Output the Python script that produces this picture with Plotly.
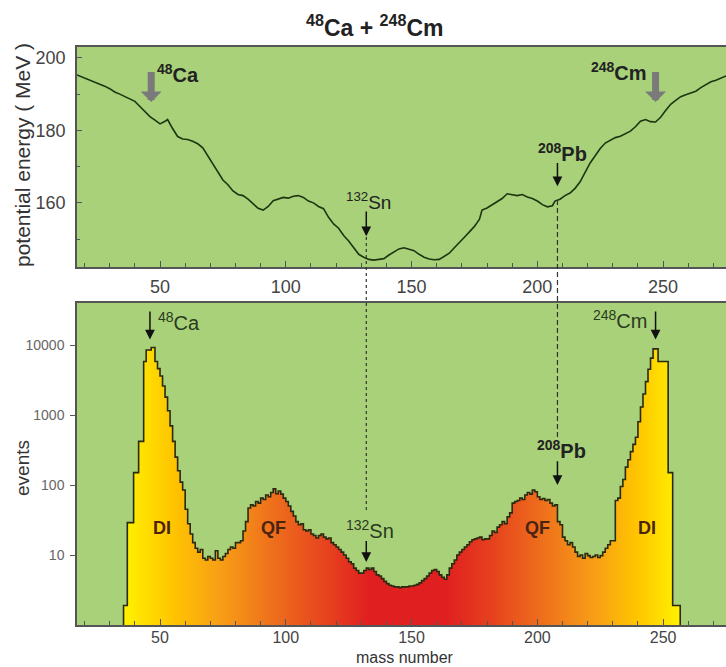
import plotly.graph_objects as go

# ---------------- data ----------------
# potential energy curve (top panel)
pe_mass = [17, 20, 23, 26, 28, 30, 32, 34, 36, 38, 40, 42, 44, 46, 48, 50, 52, 53, 55, 57,
           59, 61, 63, 65, 67, 69, 71, 73, 75, 77, 79, 81, 83, 85, 87, 89, 91, 93, 95, 97,
           99, 101, 103, 105, 107, 109, 111, 113, 115, 117, 119, 121, 123, 125, 127, 129, 131, 133, 135, 137,
           139, 141, 143, 145, 147, 149, 151, 153, 155, 157, 159, 161, 163, 165, 167, 169, 171, 173, 175, 177,
           178, 180, 182, 184, 186, 188, 190, 192, 194, 196, 198, 200, 202, 204, 206, 207, 209, 211, 213, 215,
           217, 219, 221, 223, 225, 227, 229, 231, 233, 235, 237, 239, 241, 243, 245, 247, 249, 251, 253, 255,
           257, 259, 261, 263, 265, 267, 269, 271, 273, 275]
pe_energy = [195.3, 194.5, 193.6, 192.8, 192.2, 191.5, 190.6, 190.0, 189.3, 188.7, 188.0, 186.6, 185.2, 183.8, 182.8, 181.8, 182.5, 183.0, 180.5, 178.3,
             177.6, 177.5, 177.0, 176.3, 175.2, 173.0, 170.8, 168.5, 166.3, 165.0, 163.3, 162.3, 162.0, 161.0, 159.8, 158.5, 158.0, 159.0, 160.6, 161.0,
             161.5, 161.3, 161.8, 162.0, 161.5, 160.5, 160.0, 159.0, 158.4, 156.0, 154.2, 153.0, 151.0, 149.5, 147.5, 145.8, 145.0, 144.4, 144.2, 144.3,
             144.6, 145.6, 146.5, 147.3, 147.6, 147.3, 146.8, 145.8, 145.0, 144.5, 144.3, 144.4, 145.2, 146.1, 147.6, 149.2, 150.5, 152.0, 153.5, 155.5,
             158.0, 158.6, 159.5, 160.3, 161.2, 162.5, 162.3, 162.0, 162.3, 161.6, 161.2, 160.5, 159.5, 158.9, 159.2, 160.5, 161.0, 162.0, 162.7, 164.0,
             165.8, 168.5, 171.0, 173.0, 175.0, 176.5, 177.3, 178.0, 178.4, 179.0, 179.8, 181.0, 182.5, 183.0, 182.4, 182.3, 183.6, 185.5, 187.2, 188.3,
             189.3, 189.8, 190.4, 190.8, 191.8, 192.6, 193.4, 193.8, 194.5, 195.0]

# mass distribution histogram (bottom panel): left bin edges and counts
hist_left = [35.5, 37, 39.5, 41.5, 43.5, 44.5, 46.5, 48, 49, 50, 51, 52, 53, 54, 55, 56, 57, 58, 59, 60,
             61, 62, 63, 64, 65, 66, 67, 68, 69, 70, 71, 72, 73, 74, 75, 76, 77, 78, 79, 80,
             81, 82, 83, 84, 85, 86, 87, 88, 89, 90, 91, 92, 93, 94, 95, 96, 97, 98, 99, 100,
             101, 102, 103, 104, 105, 106, 107, 108, 109, 110, 111, 112, 113, 114, 115, 116, 117, 118, 119, 120,
             121, 122, 123, 124, 125, 126, 127, 128, 129, 130, 131, 132, 133, 134, 135, 136, 137, 138, 139, 140,
             141, 142, 143, 144, 145, 146, 147, 148, 149, 150, 151, 152, 153, 154, 155, 156, 157, 158, 159, 160,
             161, 162, 163, 164, 165, 166, 167, 168, 169, 170, 171, 172, 173, 174, 175, 176, 177, 178, 179, 180,
             181, 182, 183, 184, 185, 186, 187, 188, 189, 190, 191, 192, 193, 194, 195, 196, 197, 198, 199, 200,
             201, 202, 203, 204, 205, 206, 207, 208, 209, 210, 211, 212, 213, 214, 215, 216, 217, 218, 219, 220,
             221, 222, 223, 224, 225, 226, 227, 228, 229, 230, 231, 232, 233, 234, 235, 236, 237, 238, 239, 240,
             241, 242, 243, 244, 245, 246, 248, 252, 253.8]
hist_counts = [1.9, 29, 150, 420, 5800, 8500, 9200, 5800, 4600, 3600, 2600, 1800, 1150, 700, 420, 250, 160, 110, 85, 45,
               28, 20, 15, 12.5, 11, 12, 9, 8.5, 9.5, 9, 8.5, 11.5, 9, 8.5, 9.5, 10.5, 12, 13, 12.5, 15,
               15, 16, 22, 30, 47, 52, 50, 58, 55, 65, 62, 72, 68, 78, 88, 75, 82, 74, 65, 58,
               50, 42, 36, 30, 27, 28, 23, 22, 23, 20, 19, 17.5, 19, 20, 18, 17, 17.5, 15, 14, 13,
               12, 11, 10, 9, 8, 7.5, 6.5, 6, 5.5, 5.5, 6, 6.5, 6.2, 6.5, 5.8, 5.2, 5, 4.6, 4.2, 3.9,
               3.7, 3.6, 3.5, 3.5, 3.4, 3.5, 3.5, 3.5, 3.6, 3.6, 3.7, 3.8, 4.0, 4.3, 4.6, 5.0, 5.5, 6, 6.2, 5.8,
               5.2, 4.8, 4.5, 5.2, 6.5, 7.5, 8.5, 10, 11, 12, 13, 14, 15.5, 16.5, 17, 17.5, 18, 16.5, 17, 17,
               19, 22, 21, 25, 27, 30, 28, 35, 40, 55, 58, 60, 65, 62, 72, 78, 74, 85, 80, 68,
               62, 64, 60, 62, 55, 50, 52, 30, 27, 18, 16, 14, 15, 13, 11, 9.5, 10, 9, 10.5, 9.8,
               9.2, 9.5, 10, 9.2, 9.8, 11, 12.5, 14, 16, 16, 60, 65, 95, 120, 180, 230, 300, 380, 480, 800,
               1300, 2000, 3000, 4500, 6500, 8800, 5800, 150, 1.9]
hist_right_edge = 256.8
hist_floor = 0.3   # below the visible log range, closes the histogram outline

mass_ticks = [50, 100, 150, 200, 250]
energy_ticks = [160, 180, 200]
event_ticks = [10, 100, 1000, 10000]
event_ticktext = ["10", "100", "1000", "10000"]

# nuclide markers
SN_A, PB_A = 132, 208
CA_A, CM_A = 46.5, 247

# ---------------- build ----------------
hx = [hist_left[0]] + hist_left + [hist_right_edge, hist_right_edge]
hy = [hist_floor] + hist_counts + [hist_counts[-1], hist_floor]

GREEN = "#a8d179"
FONT = "Liberation Sans, Arial, sans-serif"

fig = go.Figure()
fig.add_trace(go.Scatter(x=pe_mass, y=pe_energy, mode="lines",
                         line=dict(color="#1d3510", width=1.6), xaxis="x", yaxis="y",
                         showlegend=False, hoverinfo="skip"))
fig.add_trace(go.Scatter(
    x=hx, y=hy, mode="lines", line=dict(color="#2a2a10", width=1.6, shape="hv"),
    fill="tozeroy",
    fillgradient=dict(type="horizontal", colorscale=[
        [0.0, "#fff200"], [0.09, "#ffc400"], [0.17, "#f8a016"], [0.27, "#ee6e1c"],
        [0.37, "#e6401e"], [0.44, "#e02020"], [0.58, "#e02020"], [0.66, "#e6401e"],
        [0.75, "#ee6e1c"], [0.85, "#f8a016"], [0.92, "#ffc400"], [1.0, "#fff200"]]),
    xaxis="x2", yaxis="y2", showlegend=False, hoverinfo="skip"))

xdom = [77 / 726, 1.0]
axis_common = dict(showline=True, linecolor="#555555", linewidth=1.5, automargin=False,
                   showgrid=False, zeroline=False)

fig.update_layout(
    width=726, height=667, margin=dict(l=0, r=0, t=0, b=0, autoexpand=False),
    paper_bgcolor="white", plot_bgcolor=GREEN,
    font=dict(family=FONT),
    xaxis=dict(domain=xdom, range=[17, 275], anchor="y", mirror=True,
               tickvals=mass_ticks, ticks="inside", ticklen=6, tickcolor="#555555",
               minor=dict(dtick=10, tick0=0, ticks="inside", ticklen=4, tickcolor="#555555"),
               ticklabelstandoff=3, tickfont=dict(family=FONT, size=18, color="#444444"),
               **axis_common),
    yaxis=dict(domain=[1 - 267 / 667, 1 - 47 / 667], range=[142.3, 203], anchor="x",
               tickvals=energy_ticks, ticks="inside", ticklen=5, tickcolor="#555555",
               minor=dict(dtick=10, ticks="inside", ticklen=3, tickcolor="#555555"),
               ticklabelstandoff=6, tickfont=dict(family=FONT, size=18, color="#444444"),
               **axis_common),
    xaxis2=dict(domain=xdom, range=[17, 275], anchor="y2", mirror=True,
                tickvals=mass_ticks, ticks="inside", ticklen=6, tickcolor="#555555",
                minor=dict(dtick=10, tick0=0, ticks="inside", ticklen=4, tickcolor="#555555"),
                ticklabelstandoff=-3, tickfont=dict(family=FONT, size=16, color="#444444"),
                **axis_common),
    yaxis2=dict(domain=[1 - 625 / 667, 1 - 303 / 667], type="log", range=[0, 4.6], anchor="x2",
                tickvals=event_ticks, ticktext=event_ticktext, ticks="outside", ticklen=5,
                tickcolor="#555555", ticklabelstandoff=3,
                tickfont=dict(family=FONT, size=14, color="#666666"), **axis_common),
)

ann = []
P = dict(xref="paper", yref="paper", showarrow=False, xanchor="center", yanchor="middle")
# title
ann.append(dict(P, x=375 / 726, y=1 - 26 / 667,
                text="<b><sup>48</sup>Ca + <sup>248</sup>Cm</b>", font=dict(size=23, color="#222222")))
# axis titles
ann.append(dict(P, x=22 / 726, y=1 - 155 / 667, textangle=-90,
                text="potential energy ( MeV )", font=dict(size=21, color="#333333")))
ann.append(dict(P, x=22 / 726, y=1 - 468 / 667, textangle=-90,
                text="events", font=dict(size=19, color="#333333")))
ann.append(dict(P, x=405 / 726, y=1 - 657 / 667,
                text="mass number", font=dict(size=16, color="#333333")))

# top panel: big grey arrows
for a in (CA_A, CM_A):
    ann.append(dict(xref="x", yref="y", x=a, y=187.8, axref="x", ayref="y", ax=a, ay=196.5,
                    showarrow=True, text="", arrowhead=1, arrowsize=0.5, arrowwidth=7,
                    arrowcolor="#7a7a7a"))
ann.append(dict(xref="x", yref="y", x=48.2, y=195.8, xanchor="left", showarrow=False,
                text="<b><sup>48</sup>Ca</b>", font=dict(size=20, color="#222222")))
ann.append(dict(xref="x", yref="y", x=244.5, y=196.3, xanchor="right", showarrow=False,
                text="<b><sup>248</sup>Cm</b>", font=dict(size=20, color="#222222")))
# top panel: small black arrows
ann.append(dict(xref="x", yref="y", x=SN_A, y=150.8, axref="x", ayref="y", ax=SN_A, ay=158,
                showarrow=True, text="", arrowhead=2, arrowsize=1.3, arrowwidth=1.5, arrowcolor="#111111"))
ann.append(dict(xref="x", yref="y", x=133, y=160.4, showarrow=False,
                text="<sup>132</sup>Sn", font=dict(size=19, color="#222222")))
ann.append(dict(xref="x", yref="y", x=PB_A, y=164.6, axref="x", ayref="y", ax=PB_A, ay=171.4,
                showarrow=True, text="", arrowhead=2, arrowsize=1.3, arrowwidth=1.5, arrowcolor="#111111"))
ann.append(dict(xref="x", yref="y", x=210, y=174, showarrow=False,
                text="<b><sup>208</sup>Pb</b>", font=dict(size=20, color="#222222")))

# bottom panel arrows (log axis -> log10 units)
for a in (CA_A - 0.5, CM_A):
    ann.append(dict(xref="x2", yref="y2", x=a, y=4.08, axref="x2", ayref="y2", ax=a, ay=4.5,
                    showarrow=True, text="", arrowhead=2, arrowsize=1.3, arrowwidth=1.5,
                    arrowcolor="#111111"))
ann.append(dict(xref="x2", yref="y2", x=48.6, y=4.33, xanchor="left", showarrow=False,
                text="<sup>48</sup>Ca", font=dict(size=20, color="#2a3a20")))
ann.append(dict(xref="x2", yref="y2", x=244.5, y=4.36, xanchor="right", showarrow=False,
                text="<sup>248</sup>Cm", font=dict(size=20, color="#2a3a20")))
ann.append(dict(xref="x2", yref="y2", x=PB_A, y=2.0, axref="x2", ayref="y2", ax=PB_A, ay=2.36,
                showarrow=True, text="", arrowhead=2, arrowsize=1.3, arrowwidth=1.5, arrowcolor="#111111"))
ann.append(dict(xref="x2", yref="y2", x=209.7, y=2.5, showarrow=False,
                text="<b><sup>208</sup>Pb</b>", font=dict(size=20, color="#222222")))
ann.append(dict(xref="x2", yref="y2", x=SN_A, y=0.9, axref="x2", ayref="y2", ax=SN_A, ay=1.22,
                showarrow=True, text="", arrowhead=2, arrowsize=1.3, arrowwidth=1.5, arrowcolor="#111111"))
ann.append(dict(xref="x2", yref="y2", x=133.6, y=1.36, showarrow=False,
                text="<sup>132</sup>Sn", font=dict(size=20, color="#2a3a20")))
# DI / QF region labels
for a, t in ((50.6, "DI"), (95, "QF"), (200, "QF"), (243.5, "DI")):
    ann.append(dict(xref="x2", yref="y2", x=a, y=1.38, showarrow=False,
                    text="<b>%s</b>" % t, font=dict(size=18, color="#4a2410")))

fig.update_layout(annotations=ann)

# dashed guide lines through both panels
fig.add_shape(type="line", xref="x", yref="paper", x0=SN_A, x1=SN_A,
              y0=1 - 237 / 667, y1=1 - 513 / 667, line=dict(color="#333333", width=1.2, dash="3px,3px"))
fig.add_shape(type="line", xref="x", yref="paper", x0=PB_A, x1=PB_A,
              y0=1 - 200 / 667, y1=1 - 437 / 667, line=dict(color="#333333", width=1.2, dash="5px,3px"))

fig.write_html("out.html")
